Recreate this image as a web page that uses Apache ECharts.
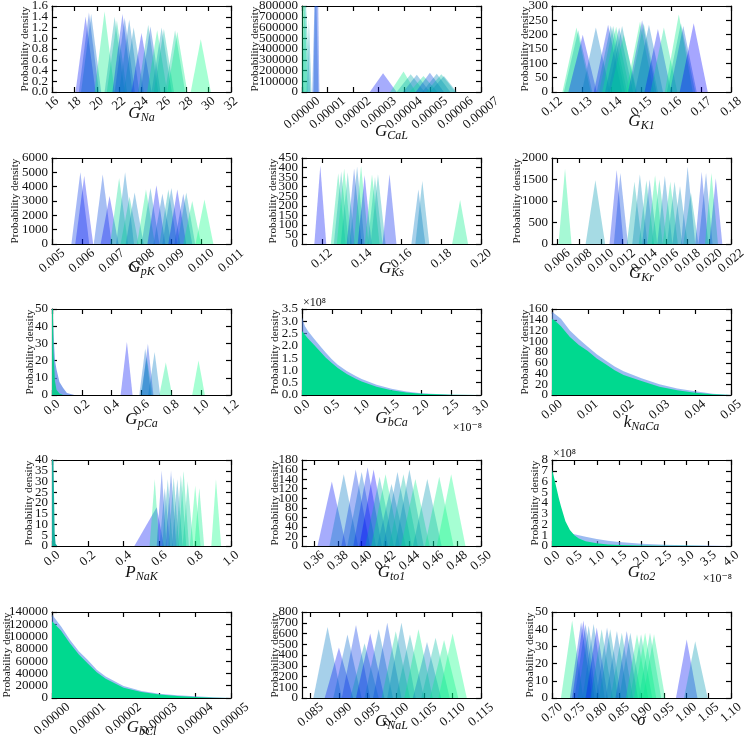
<!DOCTYPE html>
<html><head><meta charset="utf-8">
<script src="https://cdn.jsdelivr.net/npm/echarts@6/dist/echarts.min.js"></script>
<style>html,body{margin:0;padding:0;background:#fff}#c{width:745px;height:743px}</style>
</head><body><div id="c"></div>
<script>
// winter colour map, one colour per fitted individual (0 = blue ... 15 = green)
const palette = ['#0000ff','#0011f7','#0022ee','#0033e6','#0044dd','#0055d5','#0066cc','#0077c4',
                 '#0088bb','#0099b3','#00aaaa','#00bba2','#00cc99','#00dd91','#00ee88','#00ff80'];

// posterior peaks: [left foot, mode, right foot, peak density, individual index]
const gNaPeaks = [[18.1,19.0,19.9,1.40,1],[18.4,19.3,20.2,1.48,4],[18.6,19.5,20.4,1.45,6],[19.8,20.7,21.6,1.50,14],
 [20.7,21.6,22.5,1.40,10],[20.9,21.8,22.7,1.33,12],[21.4,22.3,23.2,1.45,2],[21.6,22.5,23.4,1.38,5],[22.0,22.9,23.8,1.35,7],
 [22.4,23.3,24.2,1.20,8],[23.1,24.0,24.9,1.10,1],[23.7,24.6,25.5,1.25,10],[23.9,24.8,25.7,1.22,5],[24.5,25.4,26.3,1.15,14],
 [24.9,25.8,26.7,1.20,9],[25.1,26.0,26.9,1.17,11],[26.1,27.0,27.9,1.15,12],[26.3,27.2,28.1,1.12,14],[28.4,29.3,30.2,0.98,15]];
const gCaLPeaks = [[0,0,0.0000022,1600000,14],[0,0.0000012,0.0000032,1000000,11],[0.0000018,0.0000027,0.0000037,680000,9],
 [0.0000045,0.0000057,0.0000068,2000000,3],[0.000004,0.0000053,0.0000064,1200000,5],
 [0.0000265,0.0000317,0.000037,175000,1],[0.0000345,0.0000397,0.0000445,190000,14],[0.000037,0.0000425,0.000048,165000,10],
 [0.0000395,0.0000449,0.00005,160000,7],[0.000042,0.0000475,0.000053,150000,13],[0.0000445,0.00005,0.0000555,180000,4],
 [0.000047,0.0000527,0.000058,170000,8],[0.0000485,0.0000545,0.00006,165000,11],[0.00005,0.0000555,0.0000605,150000,9]];
const gK1Peaks = [[0.1235,0.1282,0.1330,225,14],[0.1240,0.1288,0.1335,215,11],[0.1255,0.1303,0.1350,200,1],[0.1300,0.1347,0.1395,225,7],
 [0.1340,0.1388,0.1435,235,2],[0.1350,0.1397,0.1445,232,8],[0.1358,0.1405,0.1452,230,11],[0.1368,0.1415,0.1462,228,14],
 [0.1378,0.1425,0.1472,225,7],[0.1388,0.1435,0.1482,230,9],[0.1395,0.1440,0.1485,200,13],[0.1448,0.1495,0.1542,245,14],
 [0.1455,0.1502,0.1550,250,4],[0.1460,0.1507,0.1555,240,10],[0.1478,0.1525,0.1572,235,7],[0.1510,0.1555,0.1600,220,1],
 [0.1530,0.1575,0.1620,225,13],[0.1578,0.1625,0.1672,270,14],[0.1585,0.1632,0.1680,240,10],[0.1595,0.1640,0.1685,230,5],
 [0.1628,0.1675,0.1722,240,0]];
const gpKPeaks = [[0.00565,0.00595,0.00625,5000,3],[0.00578,0.00608,0.00638,4750,1],[0.00640,0.00670,0.00700,4850,4],
 [0.00663,0.00693,0.00723,3350,1],[0.00695,0.00725,0.00755,4600,13],[0.00715,0.00745,0.00775,5000,7],[0.00730,0.00760,0.00790,3300,12],
 [0.00747,0.00777,0.00807,3600,7],[0.00785,0.00815,0.00845,3800,14],[0.00800,0.00830,0.00860,3900,8],[0.00820,0.00850,0.00880,4100,1],
 [0.00840,0.00870,0.00900,3500,6],[0.00860,0.00890,0.00920,3800,10],[0.00870,0.00900,0.00930,3900,7],[0.00890,0.00920,0.00950,3800,1],
 [0.00910,0.00940,0.00970,3500,4],[0.00920,0.00950,0.00980,3600,9],[0.00940,0.00970,0.01000,3000,14],[0.00981,0.01011,0.01041,3100,15]];
const gKsPeaks = [[0.1162,0.1192,0.1222,410,1],[0.1245,0.1282,0.1320,370,13],[0.1260,0.1297,0.1335,380,10],[0.1275,0.1312,0.1350,395,14],
 [0.1295,0.1330,0.1365,375,11],[0.1325,0.1362,0.1400,395,4],[0.1340,0.1377,0.1415,405,7],[0.1360,0.1397,0.1435,410,14],
 [0.1380,0.1415,0.1450,360,1],[0.1415,0.1452,0.1490,365,14],[0.1430,0.1467,0.1505,350,11],[0.1445,0.1482,0.1520,365,10],
 [0.1505,0.1540,0.1575,365,2],[0.1650,0.1685,0.1720,285,7],[0.1670,0.1705,0.1740,330,8],[0.1855,0.1895,0.1935,230,14]];
const gKrPeaks = [[0.0061,0.0067,0.0073,1750,14],[0.0086,0.0095,0.0104,1480,9],[0.0108,0.01146,0.0121,1720,2],[0.0112,0.0118,0.0125,1650,4],
 [0.0124,0.0131,0.0138,1450,10],[0.0129,0.0136,0.0143,1620,8],[0.0135,0.0142,0.0149,1480,11],[0.0138,0.0145,0.0152,1500,6],
 [0.0143,0.0150,0.0157,1600,14],[0.0147,0.0154,0.0161,1500,12],[0.0152,0.0159,0.0166,1580,7],[0.0157,0.0164,0.0171,1450,13],
 [0.0161,0.0168,0.0175,1450,9],[0.0166,0.0173,0.0180,1350,8],[0.0174,0.0180,0.0187,1800,6],[0.0176,0.0183,0.0190,1200,10],
 [0.0187,0.0193,0.0199,1680,3],[0.0190,0.0197,0.0203,1650,5],[0.0196,0.0202,0.0208,1650,14],[0.0200,0.0206,0.0212,1530,2]];
const gpCaPeaks = [[0.46,0.502,0.54,31,1],[0.585,0.625,0.665,27,6],[0.60,0.643,0.68,30,3],[0.595,0.635,0.675,22,9],
 [0.645,0.688,0.725,25,7],[0.72,0.763,0.805,19,14],[0.94,0.982,1.025,20,15]];
const pNaKPeaks = [[0.46,0.585,0.625,18,1],[0.545,0.574,0.60,31,14],[0.585,0.613,0.64,35,3],[0.60,0.63,0.66,27,7],
 [0.615,0.647,0.675,31,9],[0.635,0.665,0.695,35,4],[0.65,0.68,0.71,32,10],[0.67,0.70,0.73,31,8],[0.69,0.72,0.75,33,11],
 [0.705,0.735,0.765,35,13],[0.73,0.758,0.79,30,12],[0.77,0.80,0.83,28,15],[0.795,0.823,0.85,27,14],[0.89,0.916,0.945,31,15]];
const gto1Peaks = [[0.363,0.375,0.387,135,1],[0.373,0.385,0.397,150,7],[0.383,0.395,0.407,160,3],[0.388,0.400,0.412,155,6],
 [0.393,0.405,0.417,165,2],[0.398,0.410,0.422,160,0],[0.403,0.415,0.427,145,10],[0.408,0.420,0.432,150,14],[0.413,0.425,0.437,130,8],
 [0.418,0.430,0.442,155,7],[0.423,0.435,0.447,150,11],[0.428,0.440,0.452,160,8],[0.433,0.445,0.457,140,14],[0.443,0.455,0.467,140,9],
 [0.453,0.465,0.477,145,14],[0.463,0.475,0.487,150,15]];
const gNaLPeaks = [[0.0855,0.088,0.0905,660,7],[0.0875,0.090,0.0925,470,1],[0.089,0.0915,0.094,590,6],[0.0905,0.093,0.0955,680,3],
 [0.092,0.0945,0.097,510,9],[0.093,0.0955,0.098,600,1],[0.0945,0.097,0.0995,640,7],[0.096,0.0985,0.101,700,4],[0.0975,0.100,0.1025,620,12],
 [0.0985,0.101,0.1035,700,8],[0.100,0.1025,0.105,590,10],[0.1015,0.104,0.1065,640,14],[0.103,0.1055,0.108,520,7],
 [0.1045,0.107,0.1095,560,11],[0.106,0.1085,0.111,540,14],[0.1075,0.110,0.1125,600,15]];
const sigmaPeaks = [[0.72,0.745,0.77,45,14],[0.74,0.765,0.79,44,3],[0.745,0.77,0.795,45,1],[0.75,0.775,0.80,43,5],
 [0.757,0.782,0.807,42,8],[0.768,0.793,0.818,43,7],[0.775,0.80,0.825,41,1],[0.786,0.811,0.836,40,10],[0.798,0.823,0.848,41,6],
 [0.805,0.83,0.855,40,9],[0.82,0.845,0.87,39,7],[0.831,0.856,0.881,38,10],[0.842,0.867,0.892,39,4],[0.85,0.875,0.90,38,8],
 [0.865,0.89,0.915,37,14],[0.874,0.899,0.924,37,12],[0.883,0.908,0.933,38,15],[0.894,0.919,0.944,38,13],[0.903,0.928,0.953,37,14],
 [0.977,1.001,1.025,34,1],[0.995,1.02,1.048,33,9]];

// decaying posteriors (overlapping envelope of all individuals: outer = widest, core = bulk)
const gbCaX     = [0,0.05,0.1,0.2,0.3,0.4,0.5,0.6,0.75,0.9,1.0,1.25,1.5,1.75,2.0,2.5,3.0];        // x 1e-8
const gbCaOuter = [3.15,2.8,2.6,2.3,2.0,1.72,1.45,1.23,0.98,0.77,0.65,0.42,0.25,0.14,0.07,0.015,0]; // x 1e8
const gbCaCore  = [2.6,2.45,2.3,2.05,1.78,1.52,1.3,1.1,0.85,0.66,0.55,0.34,0.19,0.1,0.05,0.01,0];
const kNaCaX     = [0,0.001,0.0025,0.005,0.0075,0.01,0.0125,0.015,0.0175,0.02,0.025,0.03,0.035,0.04,0.045,0.05];
const kNaCaOuter = [155,150,142,120,104,90,76,64,53,44,31,20,12,7,2.5,0];
const kNaCaCore  = [142,137,128,108,93,82,68,57,46,37,26,15.5,9,4,1.5,0];
const gto2X     = [0,0.05,0.1,0.15,0.2,0.3,0.4,0.5,0.6,0.75,1.0,1.25,1.5,2.0,2.5,3.0,3.5,4.0];      // x 1e-8
const gto2Outer = [5.5,4.2,3.2,2.4,1.9,1.35,1.2,1.1,1.0,0.85,0.65,0.5,0.38,0.2,0.11,0.06,0.035,0.02]; // x 1e8
const gto2Core  = [7.1,6.3,5.4,4.5,3.7,2.3,1.5,1.0,0.7,0.45,0.25,0.15,0.1,0.05,0.025,0.012,0.006,0.003];
const gbClX     = [0,0.0000025,0.000005,0.0000075,0.00001,0.0000125,0.000015,0.00002,0.000025,0.00003,0.000035,0.00004,0.000045,0.00005];
const gbClOuter = [136000,117000,95000,76000,62000,46000,35000,19500,11500,7000,4300,2700,1200,0];
const gbClCore  = [125000,110000,89000,71000,56000,42000,31500,16500,9800,5500,3200,1600,600,0];
const gpCaNearZeroX     = [0,0.005,0.01,0.02,0.03,0.05,0.075,0.1,0.15];
const gpCaNearZeroOuter = [60,50,35,20,15,7.5,4,1.2,0];
const gpCaNearZeroCore  = [70,55,25,8,3,0.8,0,0,0];
const pNaKNearZeroX    = [0,0.005,0.01,0.015,0.02,0.03];
const pNaKNearZeroCore = [60,50,30,6,1,0];

// tick values
const gNaXTicks = [16,18,20,22,24,26,28,30,32],            gNaYTicks = [0,0.2,0.4,0.6,0.8,1.0,1.2,1.4,1.6];
const gCaLXTicks = [0,0.00001,0.00002,0.00003,0.00004,0.00005,0.00006,0.00007], gCaLYTicks = [0,100000,200000,300000,400000,500000,600000,700000,800000];
const gK1XTicks = [0.12,0.13,0.14,0.15,0.16,0.17,0.18],    gK1YTicks = [0,50,100,150,200,250,300];
const gpKXTicks = [0.005,0.006,0.007,0.008,0.009,0.010,0.011], gpKYTicks = [0,1000,2000,3000,4000,5000,6000];
const gKsXTicks = [0.12,0.14,0.16,0.18,0.20],              gKsYTicks = [0,50,100,150,200,250,300,350,400,450];
const gKrXTicks = [0.006,0.008,0.010,0.012,0.014,0.016,0.018,0.020,0.022], gKrYTicks = [0,500,1000,1500,2000];
const gpCaXTicks = [0,0.2,0.4,0.6,0.8,1.0,1.2],            gpCaYTicks = [0,10,20,30,40,50];
const gbCaXTicks = [0,0.5,1.0,1.5,2.0,2.5,3.0],            gbCaYTicks = [0,0.5,1.0,1.5,2.0,2.5,3.0,3.5];
const kNaCaXTicks = [0,0.01,0.02,0.03,0.04,0.05],          kNaCaYTicks = [0,20,40,60,80,100,120,140,160];
const pNaKXTicks = [0,0.2,0.4,0.6,0.8,1.0],                pNaKYTicks = [0,5,10,15,20,25,30,35,40];
const gto1XTicks = [0.36,0.38,0.40,0.42,0.44,0.46,0.48,0.50], gto1YTicks = [0,20,40,60,80,100,120,140,160,180];
const gto2XTicks = [0,0.5,1.0,1.5,2.0,2.5,3.0,3.5,4.0],    gto2YTicks = [0,1,2,3,4,5,6,7,8];
const gbClXTicks = [0,0.00001,0.00002,0.00003,0.00004,0.00005], gbClYTicks = [0,20000,40000,60000,80000,100000,120000,140000];
const gNaLXTicks = [0.085,0.090,0.095,0.100,0.105,0.110,0.115], gNaLYTicks = [0,100,200,300,400,500,600,700,800];
const sigmaXTicks = [0.70,0.75,0.80,0.85,0.90,0.95,1.00,1.05,1.10], sigmaYTicks = [0,10,20,30,40,50];

const pair = (xs, ys) => xs.map((x, i) => [x, ys[i]]);

const panels = [
 {sym:'G', sub:'Na',  peaks:gNaPeaks,  xt:gNaXTicks,  yt:gNaYTicks,  xmin:16, xmax:32, xd:0, yd:1, yGap:21, xGap:13},
 {sym:'G', sub:'CaL', peaks:gCaLPeaks, xt:gCaLXTicks, yt:gCaLYTicks, xmin:0, xmax:0.00007, xd:5, yd:0, yGap:41, xGap:31},
 {sym:'G', sub:'K1',  peaks:gK1Peaks,  xt:gK1XTicks,  yt:gK1YTicks,  xmin:0.12, xmax:0.18, xd:2, yd:0, yGap:21, xGap:21},
 {sym:'G', sub:'pK',  peaks:gpKPeaks,  xt:gpKXTicks,  yt:gpKYTicks,  xmin:0.005, xmax:0.011, xd:3, yd:0, yGap:31, xGap:15},
 {sym:'G', sub:'Ks',  peaks:gKsPeaks,  xt:gKsXTicks,  yt:gKsYTicks,  xmin:0.11, xmax:0.20, xd:2, yd:0, yGap:23, xGap:16},
 {sym:'G', sub:'Kr',  peaks:gKrPeaks,  xt:gKrXTicks,  yt:gKrYTicks,  xmin:0.0055, xmax:0.022, xd:3, yd:0, yGap:29, xGap:21},
 {sym:'G', sub:'pCa', peaks:gpCaPeaks, xt:gpCaXTicks, yt:gpCaYTicks, xmin:0, xmax:1.2, xd:1, yd:0, yGap:16, xGap:16,
  areas:[[gpCaNearZeroX, gpCaNearZeroOuter, '#5b84e6', 0.75], [gpCaNearZeroX, gpCaNearZeroCore, '#10c98f', 1]]},
 {sym:'G', sub:'bCa', peaks:[], xt:gbCaXTicks, yt:gbCaYTicks, xmin:0, xmax:3, xd:1, yd:1, yGap:21, xGap:15, exp:true,
  areas:[[gbCaX, gbCaOuter, '#5b8ee8', 0.6], [gbCaX, gbCaCore, '#00d98f', 1]]},
 {sym:'k', sub:'NaCa', peaks:[], xt:kNaCaXTicks, yt:kNaCaYTicks, xmin:0, xmax:0.05, xd:2, yd:0, yGap:21, xGap:19,
  areas:[[kNaCaX, kNaCaOuter, '#5b8ee8', 0.6], [kNaCaX, kNaCaCore, '#00d98f', 1]]},
 {sym:'P', sub:'NaK', peaks:pNaKPeaks, xt:pNaKXTicks, yt:pNaKYTicks, xmin:0, xmax:1, xd:1, yd:0, yGap:17, xGap:18,
  areas:[[pNaKNearZeroX, pNaKNearZeroCore, '#1aae9f', 1]]},
 {sym:'G', sub:'to1', peaks:gto1Peaks, xt:gto1XTicks, yt:gto1YTicks, xmin:0.35, xmax:0.50, xd:2, yd:0, yGap:21, xGap:18},
 {sym:'G', sub:'to2', peaks:[], xt:gto2XTicks, yt:gto2YTicks, xmin:0, xmax:4, xd:1, yd:0, yGap:11, xGap:18, exp:true,
  areas:[[gto2X, gto2Outer, '#5b8ee8', 0.6], [gto2X, gto2Core, '#00d98f', 1]]},
 {sym:'G', sub:'bCl', peaks:[], xt:gbClXTicks, yt:gbClYTicks, xmin:0, xmax:0.00005, xd:5, yd:0, yGap:39, xGap:21,
  areas:[[gbClX, gbClOuter, '#5b8ee8', 0.6], [gbClX, gbClCore, '#00d98f', 1]]},
 {sym:'G', sub:'NaL', peaks:gNaLPeaks, xt:gNaLXTicks, yt:gNaLYTicks, xmin:0.0835, xmax:0.115, xd:3, yd:0, yGap:21, xGap:15},
 {sym:'σ', sub:'',    peaks:sigmaPeaks, xt:sigmaXTicks, yt:sigmaYTicks, xmin:0.70, xmax:1.10, xd:2, yd:0, yGap:16, xGap:14}
];

const FONT = "'Liberation Serif','DejaVu Serif',serif";
const INK = '#111';
const colLeft = [52, 302, 552], rowTop = [6, 158, 309, 460, 612];
const W = 179, H = 86, FS = 13;

const grids = [], xAxes = [], yAxes = [], series = [], graphics = [];
const topX = [], rightY = [], leftYOdd = [];

function labelWidth(s) { let w = 0; for (const ch of s) w += (ch === '.' ? 0.25 : 0.5) * FS; return w; }

panels.forEach((p, i) => {
  const r = Math.floor(i / 3), c = i % 3;
  grids.push({left: colLeft[c], top: rowTop[r], width: W, height: H, containLabel: false, outerBoundsMode: 'none'});
  const xLabels = p.xt.map(v => v.toFixed(p.xd));
  const maxW = Math.max(...xLabels.map(labelWidth));
  const margin = 2.5 + (maxW * Math.sin(40 * Math.PI / 180) + FS * Math.cos(40 * Math.PI / 180)) / 2;
  const axisLine = {show: true, onZero: false, lineStyle: {color: '#000', width: 1.2}};
  const tick = (vals) => ({show: true, inside: true, length: 5, lineStyle: {color: '#000', width: 1.2}, customValues: vals});
  xAxes.push({
    type: 'value', gridIndex: i, position: 'bottom', min: p.xmin, max: p.xmax,
    axisLine, splitLine: {show: false}, axisTick: tick(p.xt),
    axisLabel: {show: true, rotate: 40, align: 'center', verticalAlign: 'middle', margin: margin,
      showMinLabel: true, showMaxLabel: true, hideOverlap: false,
      customValues: p.xt, formatter: v => Number(v).toFixed(p.xd), fontFamily: FONT, fontSize: FS, color: INK},
    name: p.sub ? '{g|' + p.sym + '}{s|' + p.sub + '}' : '{g|' + p.sym + '}',
    nameLocation: 'middle', nameGap: p.xGap, nameMoveOverlap: false,
    nameTextStyle: {rich: {
      g: {fontFamily: FONT, fontStyle: 'italic', fontSize: 17, lineHeight: 17, verticalAlign: 'top', color: INK},
      s: {fontFamily: FONT, fontStyle: 'italic', fontSize: 12, lineHeight: 19, verticalAlign: 'bottom', color: INK}}}
  });
  topX.push({
    type: 'value', gridIndex: i, position: 'top', min: p.xmin, max: p.xmax,
    axisLine, splitLine: {show: false}, axisLabel: {show: false}, axisTick: tick(p.xt)
  });
  const ymax = p.yt[p.yt.length - 1];
  const evenTicks = p.yt.filter((v, k) => k % 2 === 0), oddTicks = p.yt.filter((v, k) => k % 2 === 1);
  const yLabel = (vals) => ({show: true, margin: 4, showMinLabel: true, showMaxLabel: true, hideOverlap: false,
      customValues: vals, formatter: v => Number(v).toFixed(p.yd), fontFamily: FONT, fontSize: FS, color: INK});
  yAxes.push({
    type: 'value', gridIndex: i, position: 'left', min: 0, max: ymax,
    axisLine, splitLine: {show: false}, axisTick: tick(p.yt), axisLabel: yLabel(evenTicks),
    name: 'Probability density', nameLocation: 'middle', nameRotate: 90, nameGap: p.yGap, nameMoveOverlap: false,
    nameTextStyle: {fontFamily: FONT, fontSize: 11.2, color: INK}
  });
  leftYOdd.push({
    type: 'value', gridIndex: i, position: 'left', offset: 0, min: 0, max: ymax,
    axisLine: {show: false}, splitLine: {show: false}, axisTick: {show: false}, axisLabel: yLabel(oddTicks)
  });
  rightY.push({
    type: 'value', gridIndex: i, position: 'right', min: 0, max: ymax,
    axisLine, splitLine: {show: false}, axisLabel: {show: false}, axisTick: tick(p.yt)
  });
  p.peaks.forEach(pk => series.push({
    type: 'line', xAxisIndex: i, yAxisIndex: i, symbol: 'none', silent: true, animation: false,
    data: [[pk[0], 0], [pk[1], pk[3]], [pk[2], 0]],
    lineStyle: {width: 0}, areaStyle: {color: palette[pk[4]], opacity: 0.35}
  }));
  (p.areas || []).forEach(a => series.push({
    type: 'line', xAxisIndex: i, yAxisIndex: i, symbol: 'none', silent: true, animation: false,
    data: pair(a[0], a[1]), lineStyle: {width: 0}, areaStyle: {color: a[2], opacity: a[3]}
  }));
  if (p.exp) {
    graphics.push({type: 'text', left: colLeft[c] + 1, top: rowTop[r] - 12,
      style: {text: '×10⁸', font: '12px ' + FONT, fill: INK}});
    graphics.push({type: 'text', right: 745 - (colLeft[c] + W) - 1, top: rowTop[r] + H + 27,
      style: {text: '×10⁻⁸', font: '12px ' + FONT, fill: INK}});
  }
});

const chart = echarts.init(document.getElementById('c'), null, {renderer: 'canvas'});
chart.setOption({
  animation: false,
  backgroundColor: '#fff',
  grid: grids,
  xAxis: xAxes.concat(topX),
  yAxis: yAxes.concat(rightY, leftYOdd),
  series: series,
  graphic: graphics
});
</script></body></html>
